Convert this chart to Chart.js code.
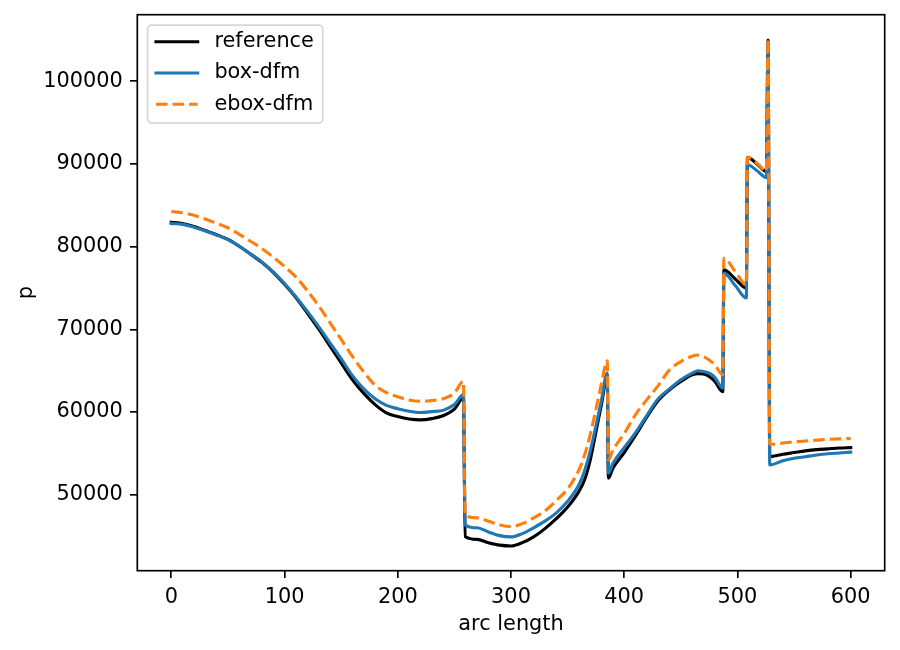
<!DOCTYPE html>
<html>
<head>
<meta charset="utf-8">
<script src="https://cdn.jsdelivr.net/npm/chart.js@4.4.1/dist/chart.umd.min.js"></script>
<style>
  html, body { margin: 0; padding: 0; background: #fff; }
</style>
</head>
<body>
<canvas id="chart" width="900" height="650"></canvas>
<script>
// values
const arcLength = [
  0, 10, 20, 30, 40, 50, 60, 70, 80, 90, 100, 110, 120, 130, 140, 150, 160, 170, 180, 190,
  200, 210, 220, 230, 240, 250, 258, 259.5, 270, 280, 290, 300, 310, 320, 330, 340, 350, 360,
  365, 370, 375, 380, 385, 386, 390, 400, 410, 420, 430, 440, 450, 460, 465, 470, 475, 480,
  487, 488, 498, 507.8, 508.8, 518, 525.5, 527, 528.5, 540, 550, 560, 570, 580, 590, 600
];
const reference = [
  82950, 82800, 82450, 81950, 81450, 80880, 80050, 79100, 78100, 76900, 75450, 73850, 72000, 70080, 68000, 65950, 63900, 62250, 60900, 59900,
  59450, 59150, 59050, 59200, 59550, 60350, 61700, 44950, 44600, 44200, 43900, 43800, 44200, 44900, 45900, 47100, 48500, 50400,
  51800, 54200, 57600, 61000, 64500, 52000, 53200, 55100, 57200, 59400, 61400, 62700, 63700, 64500, 64650, 64600, 64300, 63700,
  62450, 77200, 76100, 75000, 90800, 89900, 89100, 105000, 54600, 54900, 55100, 55300, 55450, 55550, 55650, 55700
];
const boxDfm = [
  82800, 82700, 82350, 81900, 81400, 80850, 80050, 79100, 78150, 76950, 75550, 73950, 72200, 70350, 68400, 66450, 64400, 62800, 61600, 60800,
  60400, 60100, 59950, 60050, 60200, 60900, 62100, 46350, 46000, 45500, 45050, 44900, 45300, 46000, 46800, 47800, 49200, 51200,
  52900, 55300, 58300, 61500, 64700, 52600, 53800, 55700, 57500, 59600, 61600, 62800, 63900, 64700, 65000, 64900, 64700, 64200,
  62900, 76800, 75300, 73800, 89900, 89100, 88350, 104800, 53600, 54100, 54400, 54600, 54800, 54950, 55050, 55150
];
const eboxDfm = [
  84250, 84100, 83800, 83350, 82820, 82290, 81490, 80650, 79770, 78740, 77600, 76340, 74700, 72880, 70840, 68780, 66720, 64850, 63250, 62360,
  61850, 61450, 61300, 61400, 61600, 62300, 63700, 47550, 47200, 46800, 46350, 46150, 46500, 47200, 48050, 49300, 50700, 53000,
  54800, 57300, 60300, 63500, 66200, 54200, 55400, 57400, 59700, 61500, 63200, 65100, 66100, 66750, 66900, 66700, 66300, 65700,
  64500, 78600, 77000, 75400, 90800, 90000, 89100, 105100, 56100, 56250, 56400, 56500, 56600, 56700, 56750, 56800
];
const xTicks = [0, 100, 200, 300, 400, 500, 600];
const yTicks = [50000, 60000, 70000, 80000, 90000, 100000];

const FS = 20.83;                 // 10pt at 150 dpi
const font = { family: 'DejaVu Sans', size: FS };
const LW = 3.125;                 // 1.5pt line
const AXW = 1.67;                 // 0.8pt spine

const toPoints = ys => arcLength.map((x, i) => ({ x: x, y: ys[i] }));

// box around the axes plus a matplotlib-like legend
const frameAndLegend = {
  id: 'frameAndLegend',
  afterDraw(chart) {
    const ctx = chart.ctx;
    const a = chart.chartArea;
    ctx.save();
    ctx.strokeStyle = '#000';
    ctx.lineWidth = AXW;
    ctx.strokeRect(a.left, a.top, a.right - a.left, a.bottom - a.top);

    const x0 = a.left + 10.4, y0 = a.top + 10.4;
    ctx.beginPath();
    ctx.roundRect(x0, y0, 175, 98, 4);
    ctx.fillStyle = 'rgba(255,255,255,0.8)';
    ctx.fill();
    ctx.strokeStyle = 'rgba(204,204,204,0.8)';
    ctx.lineWidth = AXW;
    ctx.stroke();

    ctx.font = FS + 'px "DejaVu Sans"';
    ctx.textBaseline = 'middle';
    ctx.textAlign = 'left';
    chart.data.datasets.forEach((ds, i) => {
      const cy = y0 + 16.6 + i * 31.3;
      ctx.beginPath();
      ctx.setLineDash(ds.borderDash || []);
      ctx.lineCap = ds.borderDash ? 'butt' : 'square';
      ctx.strokeStyle = ds.borderColor;
      ctx.lineWidth = LW;
      ctx.moveTo(x0 + 8.3, cy);
      ctx.lineTo(x0 + 50, cy);
      ctx.stroke();
      ctx.setLineDash([]);
      ctx.fillStyle = '#000';
      ctx.fillText(ds.label, x0 + 66.7, cy);
    });
    ctx.restore();
  }
};

const axisStyle = {
  grid: { drawOnChartArea: false, drawTicks: true, tickLength: 7.3, lineWidth: AXW, tickWidth: AXW, tickColor: '#000', color: '#000' },
  border: { display: false }
};

const lineStyle = { borderWidth: LW, pointRadius: 0, fill: false, cubicInterpolationMode: 'monotone', borderJoinStyle: 'round' };

new Chart(document.getElementById('chart').getContext('2d'), {
  type: 'line',
  data: {
    datasets: [
      { label: 'reference', data: toPoints(reference), borderColor: '#000000', order: 2, borderCapStyle: 'square', ...lineStyle },
      { label: 'box-dfm', data: toPoints(boxDfm), borderColor: '#1f77b4', order: 1, borderCapStyle: 'square', ...lineStyle },
      { label: 'ebox-dfm', data: toPoints(eboxDfm), borderColor: '#ff7f0e', order: 0, borderDash: [11.56, 5], borderCapStyle: 'butt', ...lineStyle }
    ]
  },
  options: {
    responsive: false,
    animation: false,
    events: [],
    layout: { padding: { top: 14.7, right: 15.3, left: 0, bottom: 0 } },
    plugins: { legend: { display: false }, tooltip: { enabled: false } },
    scales: {
      x: {
        type: 'linear', min: -30, max: 630,
        afterBuildTicks: s => { s.ticks = xTicks.map(v => ({ value: v })); },
        afterFit: s => { s.height = 79.3; s.paddingLeft = 0; s.paddingRight = 0; },
        ...axisStyle,
        ticks: { color: '#000', font: font, padding: 7.3, maxRotation: 0, autoSkip: false, callback: v => String(v) },
        title: { display: true, text: 'arc length', color: '#000', font: font, padding: { top: 0, bottom: 12.5 } }
      },
      y: {
        type: 'linear', min: 40810, max: 108055,
        afterBuildTicks: s => { s.ticks = yTicks.map(v => ({ value: v })); },
        afterFit: s => { s.width = 137.3; s.paddingTop = 0; s.paddingBottom = 0; },
        ...axisStyle,
        ticks: { color: '#000', font: font, padding: 7.3, autoSkip: false, callback: v => String(v) },
        title: { display: true, text: 'p', color: '#000', font: font, padding: { top: 14.5, bottom: 0 } }
      }
    }
  },
  plugins: [frameAndLegend]
});
</script>
</body>
</html>
